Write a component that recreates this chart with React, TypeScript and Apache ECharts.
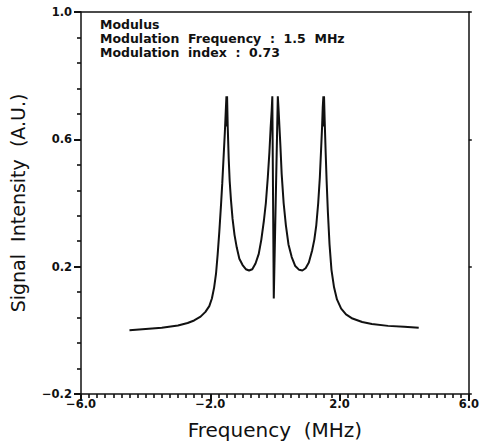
import React, { useEffect, useRef } from "react";
import * as echarts from "echarts";

const freq: number[] = [
  -4.5, -4.0, -3.5, -3.0, -2.7, -2.5, -2.3, -2.15, -2.03, -1.95, -1.88, -1.82, -1.77, -1.72, -1.67,
  -1.63, -1.59, -1.55, -1.52, -1.5, -1.49, -1.48, -1.46, -1.43, -1.4, -1.36, -1.31, -1.25, -1.18,
  -1.1, -1.0, -0.9, -0.8, -0.7, -0.6, -0.5, -0.42, -0.34, -0.28, -0.22, -0.17, -0.13, -0.1, -0.08,
  -0.035, 0.09, 0.11, 0.14, 0.17, 0.21, 0.27, 0.34, 0.42, 0.52, 0.63, 0.75, 0.85, 0.95, 1.05, 1.15,
  1.22, 1.28, 1.34, 1.39, 1.43, 1.46, 1.48, 1.5, 1.51, 1.52, 1.54, 1.57, 1.6, 1.64, 1.69, 1.75, 1.83,
  1.92, 2.05, 2.2, 2.4, 2.7, 3.0, 3.5, 4.0, 4.45,
];

const intensity: number[] = [
  0.0, 0.004, 0.008, 0.015, 0.023, 0.031, 0.043, 0.058, 0.076, 0.1, 0.135, 0.18, 0.24, 0.31, 0.39,
  0.46, 0.54, 0.62, 0.69, 0.735, 0.64, 0.735, 0.64, 0.54, 0.47, 0.41, 0.35, 0.3, 0.26,
  0.225, 0.205, 0.192, 0.188, 0.192, 0.21, 0.24, 0.285, 0.345, 0.4, 0.48, 0.56, 0.64, 0.69, 0.735,
  0.1, 0.735, 0.7, 0.64, 0.58, 0.49, 0.4, 0.33, 0.27, 0.23, 0.202, 0.19, 0.188, 0.195, 0.213, 0.25,
  0.285, 0.33, 0.4, 0.48, 0.57, 0.64, 0.7, 0.735, 0.64, 0.735, 0.66, 0.56, 0.47, 0.37, 0.27, 0.19, 0.135,
  0.097, 0.068, 0.05, 0.037, 0.026, 0.02, 0.014, 0.011, 0.008,
];

const X_MIN = -6, X_MAX = 6, X_INTERVAL = 4;
const Y_MIN = -0.2, Y_MAX = 1.0, Y_INTERVAL = 0.4;

const annotation: string[] = [
  "Modulus",
  "Modulation  Frequency  :  1.5  MHz",
  "Modulation  index  :  0.73",
];

const xTitle = "Frequency  (MHz)";
const yTitle = "Signal  Intensity  (A.U.)";

export default function App() {
  const ref = useRef<HTMLDivElement>(null);
  useEffect(() => {
    if (!ref.current) return;
    const chart = echarts.init(ref.current, undefined, { renderer: "svg" });
    const ink = "#111";
    const lbl = { color: ink, fontFamily: "DejaVu Sans", fontSize: 11.5, fontWeight: "bold" as const };
    const fmt = (v: number) => v.toFixed(1).replace("-", "−");
    const major = { show: true, inside: false, length: 7, lineStyle: { color: ink, width: 2 } };

    chart.setOption({
      animation: false,
      backgroundColor: "#fff",
      grid: { left: 79, right: 12, top: 12, bottom: 50 },
      xAxis: [
        {
          type: "value",
          min: X_MIN,
          max: X_MAX,
          interval: X_INTERVAL,
          axisLine: { show: true, onZero: false, lineStyle: { color: ink, width: 1.5 } },
          axisTick: major,
          minorTick: { show: true, splitNumber: 16, length: 4, lineStyle: { color: ink, width: 1.6 } },
          splitLine: { show: false },
          axisLabel: { ...lbl, margin: 4, formatter: fmt },
          name: xTitle,
          nameLocation: "middle",
          nameGap: 26,
          nameTextStyle: { color: ink, fontFamily: "DejaVu Sans", fontSize: 20 },
        },
        {
          type: "value",
          position: "top",
          min: X_MIN,
          max: X_MAX,
          interval: X_INTERVAL,
          axisLine: { show: true, onZero: false, lineStyle: { color: ink, width: 1.5 } },
          axisTick: { show: false },
          axisLabel: { show: false },
          splitLine: { show: false },
        },
      ],
      yAxis: [
        {
          type: "value",
          min: Y_MIN,
          max: Y_MAX,
          interval: Y_INTERVAL,
          axisLine: { show: true, onZero: false, lineStyle: { color: ink, width: 1.5 } },
          axisTick: major,
          minorTick: { show: true, splitNumber: 5, length: 4, lineStyle: { color: ink, width: 1.6 } },
          splitLine: { show: false },
          axisLabel: { ...lbl, margin: 9, formatter: fmt },
          name: yTitle,
          nameLocation: "middle",
          nameGap: 54,
          nameTextStyle: { color: ink, fontFamily: "DejaVu Sans", fontSize: 19 },
        },
        {
          type: "value",
          position: "right",
          min: Y_MIN,
          max: Y_MAX,
          interval: Y_INTERVAL,
          axisLine: { show: true, onZero: false, lineStyle: { color: ink, width: 1.5 } },
          axisTick: { show: true, inside: false, length: 3, lineStyle: { color: ink, width: 1.5 } },
          axisLabel: { show: false },
          splitLine: { show: false },
        },
      ],
      graphic: [
        {
          type: "text",
          left: 100,
          top: 17,
          style: {
            text: annotation.join("\n"),
            fill: ink,
            font: "bold 12.5px 'DejaVu Sans'",
            lineHeight: 14,
          },
        },
      ],
      series: [
        {
          type: "line",
          data: freq.map((f, i) => [f, intensity[i]]),
          showSymbol: false,
          symbol: "none",
          lineStyle: { color: ink, width: 2 },
          xAxisIndex: 0,
          yAxisIndex: 0,
        },
      ],
    });
    return () => chart.dispose();
  }, []);
  return (
    <div
      ref={ref}
      style={{ position: "absolute", left: 0, top: 0, width: 482, height: 445 }}
    />
  );
}
